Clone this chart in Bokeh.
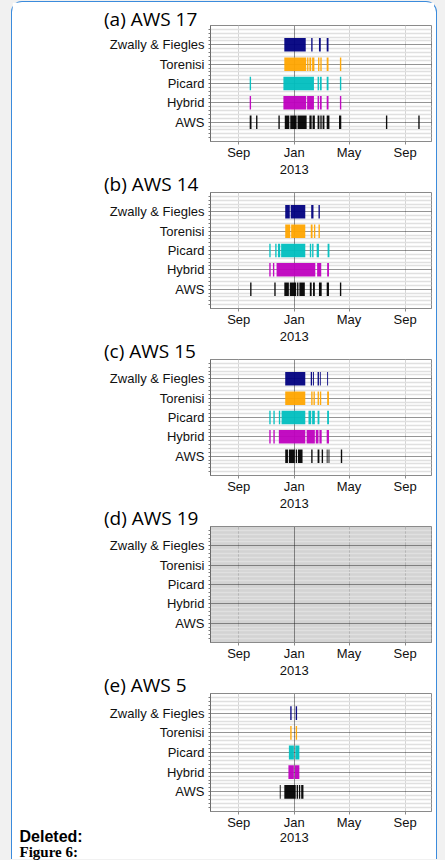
import pandas as pd
from bokeh.plotting import figure
from bokeh.models import Range1d, FixedTicker, Grid, Title, ColumnDataSource, Div
from bokeh.layouts import column, row
from bokeh.embed import file_html
from bokeh.resources import INLINE

# ---------------- data ----------------
methods = ["AWS", "Hybrid", "Picard", "Torenisi", "Zwally & Fiegles"]
method_colors = ["#000000", "#bf00bf", "#00bfbf", "#ffa500", "#000080"]

tick_dates = ["2012-09-01", "2013-01-01", "2013-05-01", "2013-09-01"]
tick_names = ["Sep", "Jan", "May", "Sep"]
year_date = "2013-01-01"
year_name = "2013"
x_start = "2012-07-01"
x_end = "2013-10-29"
origin = "2013-01-01"

panel_titles = ["(a) AWS 17", "(b) AWS 14", "(c) AWS 15", "(d) AWS 19", "(e) AWS 5"]
panel_no_data = [False, False, False, True, False]

aws17_aws = [("2012-09-25", "2012-09-29"), ("2012-10-09", "2012-10-12"), ("2012-11-27", "2012-11-30"),
             ("2012-12-11", "2012-12-21"), ("2012-12-23", "2013-01-06"), ("2013-01-08", "2013-01-28"),
             ("2013-02-03", "2013-02-08"), ("2013-02-10", "2013-02-15"), ("2013-02-21", "2013-02-25"),
             ("2013-02-27", "2013-03-02"), ("2013-03-04", "2013-03-08"), ("2013-03-13", "2013-03-19"),
             ("2013-04-09", "2013-04-14"), ("2013-07-21", "2013-07-24"), ("2013-09-30", "2013-10-03")]
aws17_hybrid = [("2012-09-25", "2012-09-28"), ("2012-12-08", "2013-01-27"), ("2013-01-29", "2013-02-13"),
                ("2013-02-21", "2013-02-24"), ("2013-02-26", "2013-03-02"), ("2013-03-13", "2013-03-17"),
                ("2013-04-11", "2013-04-14")]
aws17_picard = [("2012-09-25", "2012-09-28"), ("2012-12-08", "2013-02-13"), ("2013-02-21", "2013-02-24"),
                ("2013-02-26", "2013-03-02"), ("2013-03-13", "2013-03-17"), ("2013-04-11", "2013-04-14")]
aws17_torenisi = [("2012-12-10", "2013-01-27"), ("2013-01-29", "2013-02-01"), ("2013-02-03", "2013-02-07"),
                  ("2013-02-09", "2013-02-14"), ("2013-02-22", "2013-02-25"), ("2013-02-27", "2013-03-02"),
                  ("2013-03-13", "2013-03-17"), ("2013-04-11", "2013-04-14")]
aws17_zwally = [("2012-12-10", "2013-01-26"), ("2013-02-07", "2013-02-10"), ("2013-02-24", "2013-02-28"),
                ("2013-03-13", "2013-03-17")]

aws14_aws = [("2012-09-26", "2012-09-29"), ("2012-11-18", "2012-11-21"), ("2012-12-10", "2012-12-20"),
             ("2012-12-22", "2013-01-05"), ("2013-01-07", "2013-01-10"), ("2013-01-12", "2013-01-24"),
             ("2013-02-04", "2013-02-08"), ("2013-02-11", "2013-02-15"), ("2013-02-24", "2013-03-02"),
             ("2013-03-13", "2013-03-18"), ("2013-04-11", "2013-04-14")]
aws14_hybrid = [("2012-11-07", "2012-11-10"), ("2012-11-15", "2012-11-18"), ("2012-11-23", "2013-02-16"),
                ("2013-02-20", "2013-03-01"), ("2013-03-14", "2013-03-18")]
aws14_picard = [("2012-11-07", "2012-11-10"), ("2012-11-20", "2012-11-23"), ("2012-11-26", "2012-12-01"),
                ("2012-12-03", "2013-01-25"), ("2013-02-04", "2013-02-07"), ("2013-02-09", "2013-02-12"),
                ("2013-02-19", "2013-02-24"), ("2013-03-15", "2013-03-19")]
aws14_torenisi = [("2012-12-12", "2012-12-23"), ("2012-12-25", "2013-01-25"), ("2013-02-06", "2013-02-10"),
                  ("2013-02-13", "2013-02-16"), ("2013-02-23", "2013-02-26")]
aws14_zwally = [("2012-12-12", "2012-12-22"), ("2012-12-24", "2013-01-25"), ("2013-02-07", "2013-02-12"),
                ("2013-02-23", "2013-02-26")]

aws15_aws = [("2012-12-12", "2012-12-18"), ("2012-12-20", "2013-01-02"), ("2013-01-04", "2013-01-07"),
             ("2013-01-09", "2013-01-19"), ("2013-02-07", "2013-02-10"), ("2013-02-21", "2013-02-25"),
             ("2013-03-02", "2013-03-05"), ("2013-03-13", "2013-03-15"), ("2013-03-17", "2013-03-19"),
             ("2013-04-13", "2013-04-16")]
aws15_hybrid = [("2012-11-07", "2012-11-10"), ("2012-11-16", "2012-11-19"), ("2012-11-28", "2013-01-25"),
                ("2013-01-28", "2013-02-15"), ("2013-02-17", "2013-02-23"), ("2013-02-25", "2013-03-02"),
                ("2013-03-13", "2013-03-18")]
aws15_picard = [("2012-11-07", "2012-11-10"), ("2012-11-16", "2012-11-19"), ("2012-11-28", "2012-12-01"),
                ("2012-12-04", "2013-01-25"), ("2013-02-01", "2013-02-07"), ("2013-02-09", "2013-02-15"),
                ("2013-02-21", "2013-02-25"), ("2013-03-14", "2013-03-18")]
aws15_torenisi = [("2012-12-12", "2013-01-25"), ("2013-02-07", "2013-02-10"), ("2013-02-12", "2013-02-15"),
                  ("2013-02-21", "2013-02-24"), ("2013-02-26", "2013-03-01"), ("2013-03-14", "2013-03-18")]
aws15_zwally = [("2012-12-12", "2013-01-25"), ("2013-02-06", "2013-02-09"), ("2013-02-11", "2013-02-13"),
                ("2013-02-21", "2013-02-24"), ("2013-02-26", "2013-02-28"), ("2013-03-14", "2013-03-16")]

aws19_aws = []
aws19_hybrid = []
aws19_picard = []
aws19_torenisi = []
aws19_zwally = []

aws5_aws = [("2012-11-30", "2012-12-02"), ("2012-12-10", "2013-01-04"), ("2013-01-06", "2013-01-09"),
            ("2013-01-11", "2013-01-14"), ("2013-01-16", "2013-01-21")]
aws5_hybrid = [("2012-12-19", "2012-12-31"), ("2013-01-02", "2013-01-12")]
aws5_picard = [("2012-12-20", "2012-12-31"), ("2013-01-03", "2013-01-12")]
aws5_torenisi = [("2012-12-23", "2012-12-26"), ("2013-01-04", "2013-01-07")]
aws5_zwally = [("2012-12-23", "2012-12-26"), ("2013-01-04", "2013-01-07")]

panel_series = [
    [aws17_aws, aws17_hybrid, aws17_picard, aws17_torenisi, aws17_zwally],
    [aws14_aws, aws14_hybrid, aws14_picard, aws14_torenisi, aws14_zwally],
    [aws15_aws, aws15_hybrid, aws15_picard, aws15_torenisi, aws15_zwally],
    [aws19_aws, aws19_hybrid, aws19_picard, aws19_torenisi, aws19_zwally],
    [aws5_aws, aws5_hybrid, aws5_picard, aws5_torenisi, aws5_zwally],
]

footer_texts = ["Deleted:", "Figure 6:"]

# ---------------- helpers ----------------
t0 = pd.Timestamp(origin)


def day(s):
    return (pd.Timestamp(s) - t0).days


tick_days = [day(d) for d in tick_dates]
jan_days = [day(d) for d in tick_dates if pd.Timestamp(d).month == 1]
other_days = [d for d in tick_days if d not in jan_days]

SANS = "Liberation Sans"
BAR_HALF = 0.35
FULL_W = 422
FRAME_LEFT_PAD = 198
RIGHT_PAD = 3
FRAME_H = 118
panel_tops = [23, 30, 30, 30, 30]
panel_bottoms = [19, 19, 19, 19, 47]
title_standoffs = [-13, -8, -8, -8, -8]
YEAR_STANDOFF = -6
YEAR_HALF_W = 14.5
FOOTER_W = 88

y_major = list(range(1, len(methods) + 1))
y_minor = [round(i * 0.2, 2) for i in range(0, 31) if (i % 5) != 0]


def year_offset(width, left_pad):
    frame_w = width - left_pad - RIGHT_PAD
    frac = (day(year_date) - day(x_start)) / (day(x_end) - day(x_start))
    return frame_w * frac - YEAR_HALF_W


def make_panel(k, width, left_pad):
    shaded = panel_no_data[k]
    p = figure(width=width, height=panel_tops[k] + FRAME_H + panel_bottoms[k],
               x_range=Range1d(day(x_start), day(x_end)), y_range=Range1d(0, 6),
               output_backend="svg", toolbar_location=None,
               min_border_left=left_pad, min_border_right=RIGHT_PAD, min_border_top=panel_tops[k],
               min_border_bottom=panel_bottoms[k],
               background_fill_color="#d3d3d3" if shaded else "white",
               border_fill_color="white", outline_line_color="#8a8a8a")

    # x axis
    xa = p.xaxis[0]
    xa.ticker = FixedTicker(ticks=tick_days)
    xa.major_label_overrides = {d: n for d, n in zip(tick_days, tick_names)}
    xa.axis_line_color = "#8a8a8a"
    xa.major_tick_line_color = "#8a8a8a"
    xa.major_tick_out = 3
    xa.major_tick_in = 0
    xa.minor_tick_line_color = None
    xa.major_label_standoff = 0
    xa.major_label_text_font = SANS
    xa.major_label_text_font_size = "13px"
    xa.major_label_text_color = "#111111"

    # y axis
    yt = FixedTicker(ticks=y_major, minor_ticks=y_minor)
    ya = p.yaxis[0]
    ya.ticker = yt
    ya.major_label_overrides = {i + 1: m for i, m in enumerate(methods)}
    ya.axis_line_color = "#6a6a6a"
    ya.major_tick_line_color = "#6a6a6a"
    ya.minor_tick_line_color = "#7a7a7a"
    ya.major_tick_out = 2
    ya.major_tick_in = 0
    ya.minor_tick_out = 2
    ya.minor_tick_in = 0
    ya.major_label_standoff = 4
    ya.major_label_text_font = SANS
    ya.major_label_text_font_size = "13px"
    ya.major_label_text_color = "#111111"

    # grids
    p.ygrid.ticker = yt
    p.ygrid.grid_line_color = "#2a2a2a"
    p.ygrid.grid_line_dash = "1 1"
    p.ygrid.grid_line_width = 1
    p.ygrid.minor_grid_line_color = "#e0e0e0"
    p.ygrid.minor_grid_line_width = 1.3
    p.xgrid.ticker = FixedTicker(ticks=other_days)
    p.xgrid.grid_line_color = "#b5b5b5" if shaded else "#d4d4d4"
    p.xgrid.grid_line_width = 1
    p.add_layout(Grid(dimension=0, ticker=FixedTicker(ticks=jan_days),
                      grid_line_color="#222222", grid_line_dash="1 1", grid_line_width=1))

    # event bars
    for i, (events, col) in enumerate(zip(panel_series[k], method_colors)):
        if not events:
            continue
        y = i + 1
        src = ColumnDataSource(dict(
            left=[day(s) for s, e in events],
            right=[day(e) for s, e in events],
            bottom=[y - BAR_HALF] * len(events),
            top=[y + BAR_HALF] * len(events)))
        p.quad(left="left", right="right", bottom="bottom", top="top", source=src,
               fill_color=col, fill_alpha=0.95, line_color=None)

    # panel title, left of the frame top
    t = Title(text=panel_titles[k], align="left", offset=-106.5,
              vertical_align="bottom", text_font="Open Sans", text_font_size="19px",
              text_font_style="normal", text_color="#000000")
    try:
        t.standoff = title_standoffs[k]
    except ValueError:
        t.standoff = 0
    p.add_layout(t, "above")
    return p


def year_title(width, left_pad, side):
    yt_ = Title(text=year_name, align="left", offset=year_offset(width, left_pad),
                vertical_align="top", text_font=SANS, text_font_size="13px",
                text_font_style="normal", text_color="#111111")
    try:
        yt_.standoff = YEAR_STANDOFF if side == "above" else 0
    except ValueError:
        yt_.standoff = 0
    return yt_


n = len(panel_titles)
figs = [make_panel(k, FULL_W, FRAME_LEFT_PAD) for k in range(n - 1)]
fig_e = make_panel(n - 1, FULL_W - FOOTER_W, FRAME_LEFT_PAD - FOOTER_W)

# year line under "Jan": drawn in the gap between a panel and the next one
for k in range(1, n - 1):
    figs[k].add_layout(year_title(FULL_W, FRAME_LEFT_PAD, "above"), "above")
fig_e.add_layout(year_title(FULL_W - FOOTER_W, FRAME_LEFT_PAD - FOOTER_W, "above"), "above")
fig_e.add_layout(year_title(FULL_W - FOOTER_W, FRAME_LEFT_PAD - FOOTER_W, "below"), "below")

e_height = panel_tops[-1] + FRAME_H + panel_bottoms[-1]
footer_html = (
    '<div style="padding-left:7.5px;padding-top:165.5px;">'
    '<div style="font-family:\'Liberation Sans\';font-weight:bold;font-size:16px;line-height:16px;color:#000;">'
    + footer_texts[0] + '</div>'
    '<div style="font-family:\'Liberation Serif\';font-weight:bold;font-size:15px;line-height:15px;color:#000;">'
    + footer_texts[1] + '</div></div>')
footer = Div(text=footer_html, width=FOOTER_W, height=e_height, margin=0)

last_row = row(footer, fig_e, width=FULL_W, height=e_height, margin=0)

box = column(*figs, last_row, width=426, height=858, margin=(1, 0, 0, 11),
             styles={"background-color": "white", "border": "1.5px solid #3b8bdc",
                     "border-bottom": "0", "border-radius": "11px 11px 0 0"})
root = column(box, width=445, height=860, margin=0, styles={"background-color": "#f1f1f1"})

open("out.html", "w").write(file_html(root, INLINE))
